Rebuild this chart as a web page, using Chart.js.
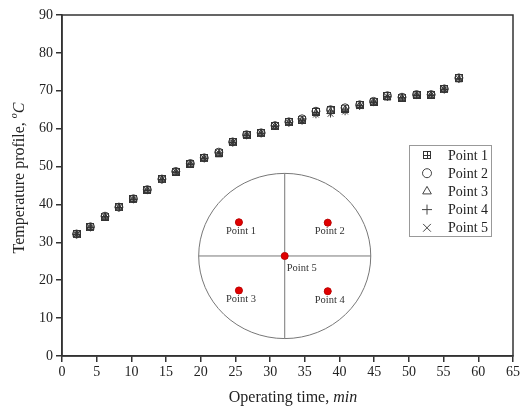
<!DOCTYPE html>
<html lang="en">
<head>
<meta charset="UTF-8">
<title>Temperature profile</title>
<script src="https://cdn.jsdelivr.net/npm/chart.js@4"></script>
<style>
  html, body { margin: 0; padding: 0; background: #fff; }
</style>
</head>
<body>
<canvas id="myChart" width="532" height="414"></canvas>
<script>
// operating time (min) of each reading
const times = [2.1, 4.1, 6.2, 8.2, 10.3, 12.3, 14.4, 16.4, 18.5, 20.5, 22.6, 24.6, 26.6, 28.7,
               30.7, 32.7, 34.6, 36.6, 38.7, 40.8, 42.9, 44.9, 46.9, 49.0, 51.1, 53.2, 55.1, 57.2];

// temperature (°C) at each measuring point
const point1 = [32.1, 34.0, 36.8, 39.2, 41.4, 43.8, 46.6, 48.6, 50.7, 52.2, 53.7, 56.4, 58.3, 58.8,
                60.7, 61.7, 62.4, 64.4, 64.8, 65.3, 66.2, 67.1, 68.6, 68.2, 68.9, 68.9, 70.4, 73.3];
const point2 = [32.2, 34.1, 36.9, 39.3, 41.5, 43.9, 46.7, 48.7, 50.8, 52.3, 53.8, 56.5, 58.4, 58.9,
                60.8, 61.8, 62.6, 64.6, 65.0, 65.5, 66.3, 67.2, 68.7, 68.3, 69.0, 69.0, 70.5, 73.4];
const point3 = [32.0, 33.9, 36.7, 39.1, 41.3, 43.7, 46.5, 48.5, 50.6, 52.1, 53.1, 56.3, 58.2, 58.7,
                60.6, 61.6, 62.3, 64.2, 64.5, 65.1, 66.1, 67.0, 68.1, 68.1, 68.8, 68.8, 70.3, 72.9];
const point4 = [32.1, 34.0, 36.8, 39.2, 41.4, 43.8, 46.6, 48.6, 50.7, 52.2, 53.6, 56.4, 58.3, 58.8,
                60.7, 61.6, 62.1, 63.8, 64.0, 64.6, 66.0, 67.0, 68.4, 68.2, 68.9, 68.9, 70.4, 73.1];
const point5 = [32.1, 34.0, 36.8, 39.2, 41.4, 43.8, 46.6, 48.6, 50.7, 52.2, 53.6, 56.4, 58.3, 58.8,
                60.7, 61.6, 62.0, 63.7, 63.9, 64.5, 65.9, 67.0, 68.4, 68.2, 68.9, 68.9, 70.4, 73.2];

const seriesNames = ['Point 1', 'Point 2', 'Point 3', 'Point 4', 'Point 5'];

// axis ranges / tick steps
const xMin = 0, xMax = 65, xStep = 5;
const yMin = 0, yMax = 90, yStep = 10;

// inset sketch of the cross-section (in axis units)
const insetCenter = [32.1, 26.4];
const insetRadius = [12.4, 21.8];
const sensorX = [25.5, 38.3, 25.5, 38.3, 32.1];
const sensorY = [35.3, 35.2, 17.3, 17.1, 26.4];

const serif = '"Liberation Serif", "DejaVu Serif", serif';
const ink = '#333';

// square with a cross inside, for Point 1
function boxPlus(size) {
    const c = document.createElement('canvas');
    c.width = size; c.height = size;
    const g = c.getContext('2d');
    g.strokeStyle = ink;
    g.lineWidth = 1;
    g.strokeRect(0.5, 0.5, size - 1, size - 1);
    const m = Math.floor(size / 2) + 0.5;
    g.beginPath();
    g.moveTo(m, 0.5); g.lineTo(m, size - 0.5);
    g.moveTo(0.5, m); g.lineTo(size - 0.5, m);
    g.stroke();
    return c;
}

const styles = [boxPlus(8), 'circle', 'triangle', 'cross', 'crossRot'];
const legendRadius = [4, 4.5, 5, 5, 5.5];
const values = [point1, point2, point3, point4, point5];

const datasets = values.map((v, k) => ({
    label: seriesNames[k],
    data: times.map((t, i) => ({ x: t, y: v[i] })),
    pointStyle: styles[k],
    pointRadius: 4,
    pointBorderWidth: 1,
    borderColor: ink,
    backgroundColor: 'rgba(0,0,0,0)',
    showLine: false
}));

datasets.push({
    label: 'sensors',
    data: sensorX.map((x, i) => ({ x: x, y: sensorY[i] })),
    pointStyle: 'circle',
    pointRadius: 3.5,
    pointBorderWidth: 0.5,
    borderColor: '#a00',
    backgroundColor: '#e00000',
    showLine: false
});

function richText(ctx, parts, x, y) {
    let w = 0;
    parts.forEach(p => { ctx.font = p.font; w += ctx.measureText(p.text).width; });
    let cx = x - w / 2;
    parts.forEach(p => {
        ctx.font = p.font;
        ctx.fillText(p.text, cx, y + (p.dy || 0));
        cx += ctx.measureText(p.text).width;
    });
}

const decorations = {
    id: 'decorations',
    afterDraw(chart) {
        const ctx = chart.ctx;
        const a = chart.chartArea;
        const xs = chart.scales.x, ys = chart.scales.y;
        ctx.save();

        // frame
        ctx.strokeStyle = ink;
        ctx.lineWidth = 1.5;
        ctx.strokeRect(a.left, a.top, a.right - a.left, a.bottom - a.top);

        // inset
        const cx = xs.getPixelForValue(insetCenter[0]);
        const cy = ys.getPixelForValue(insetCenter[1]);
        const rx = xs.getPixelForValue(insetCenter[0] + insetRadius[0]) - cx;
        const ry = cy - ys.getPixelForValue(insetCenter[1] + insetRadius[1]);
        ctx.strokeStyle = '#777';
        ctx.lineWidth = 1;
        ctx.beginPath();
        ctx.ellipse(cx, cy, rx, ry, 0, 0, Math.PI * 2);
        ctx.moveTo(cx - rx, cy); ctx.lineTo(cx + rx, cy);
        ctx.moveTo(cx, cy - ry); ctx.lineTo(cx, cy + ry);
        ctx.stroke();

        ctx.fillStyle = '#333';
        ctx.font = '10.5px ' + serif;
        ctx.textBaseline = 'middle';
        sensorX.forEach((sx, i) => {
            const px = xs.getPixelForValue(sx), py = ys.getPixelForValue(sensorY[i]);
            if (i === 4) {
                ctx.textAlign = 'left';
                ctx.fillText(seriesNames[i], px + 2, py + 12);
            } else {
                ctx.textAlign = 'center';
                ctx.fillText(seriesNames[i], px + 2, py + 9);
            }
        });
        // redraw sensor dots over the lines
        chart.getDatasetMeta(5).data.forEach(el => el.draw(ctx));

        // legend
        ctx.strokeStyle = '#999';
        ctx.lineWidth = 1;
        ctx.strokeRect(409.5, 145.5, 82, 91);
        ctx.font = '14px ' + serif;
        ctx.textAlign = 'left';
        seriesNames.forEach((name, i) => {
            const y = 155 + 18.2 * i;
            ctx.strokeStyle = '#444';
            ctx.fillStyle = 'rgba(0,0,0,0)';
            ctx.lineWidth = 1;
            Chart.helpers.drawPoint(ctx, { pointStyle: styles[i], radius: legendRadius[i], borderWidth: 1 }, 427, y);
            ctx.fillStyle = '#222';
            ctx.fillText(name, 448, y + 1);
        });

        // axis titles
        ctx.fillStyle = '#222';
        ctx.textBaseline = 'middle';
        ctx.textAlign = 'left';
        richText(ctx, [
            { text: 'Operating time, ', font: '16px ' + serif },
            { text: 'min', font: 'italic 16px ' + serif }
        ], 293, 398);

        ctx.translate(20, 178);
        ctx.rotate(-Math.PI / 2);
        richText(ctx, [
            { text: 'Temperature profile, ', font: '16px ' + serif },
            { text: 'o', font: 'italic 10px ' + serif, dy: -6 },
            { text: 'C', font: 'italic 16px ' + serif }
        ], 0, 0);
        ctx.restore();
    }
};

const axisStyle = {
    grid: { drawOnChartArea: false, drawTicks: true, tickLength: 6, color: ink, lineWidth: 1.5 },
    border: { color: ink, width: 1.5 }
};

new Chart(document.getElementById('myChart'), {
    type: 'scatter',
    data: { datasets: datasets },
    options: {
        responsive: false,
        animation: false,
        layout: { padding: { top: 15, right: 19, left: 0, bottom: 0 } },
        plugins: { legend: { display: false }, tooltip: { enabled: false } },
        scales: {
            x: {
                type: 'linear', min: xMin, max: xMax,
                ticks: { stepSize: xStep, color: '#222', padding: 2, font: { family: serif, size: 14 } },
                ...axisStyle,
                afterFit: s => { s.height = 58; }
            },
            y: {
                type: 'linear', min: yMin, max: yMax,
                ticks: { stepSize: yStep, color: '#222', padding: 3, font: { family: serif, size: 14 } },
                ...axisStyle,
                afterFit: s => { s.width = 62; }
            }
        }
    },
    plugins: [decorations]
});
</script>
</body>
</html>
